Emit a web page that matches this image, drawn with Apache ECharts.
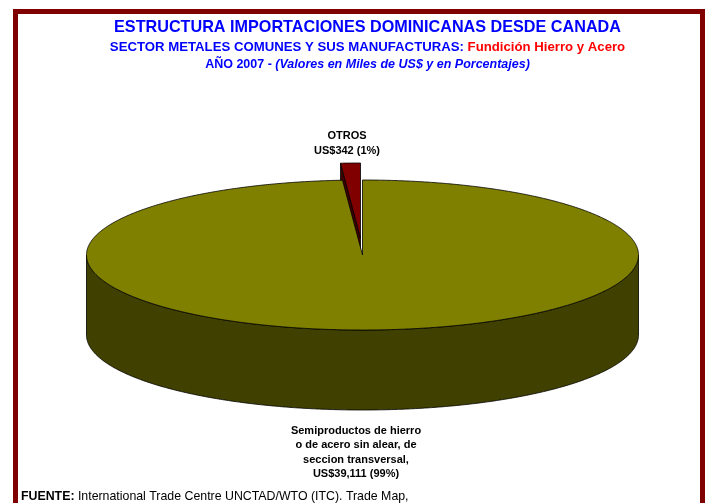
<!DOCTYPE html>
<html>
<head>
<meta charset="utf-8">
<style>html,body{margin:0;padding:0;background:#fff}#c{width:705px;height:503px}</style>
<script src="https://cdn.jsdelivr.net/npm/echarts@6/dist/echarts.min.js"></script>
</head>
<body>
<div id="c"></div>
<script>
const categories = ['OTROS', 'Semiproductos de hierro o de acero sin alear, de seccion transversal'];
const values = [342, 39111];
const titleLine1 = 'ESTRUCTURA IMPORTACIONES DOMINICANAS DESDE CANADA';
const titleLine2a = 'SECTOR METALES COMUNES Y SUS MANUFACTURAS: ';
const titleLine2b = 'Fundición Hierro y Acero';
const titleLine3a = 'AÑO 2007 - ';
const titleLine3b = '(Valores en Miles de US$ y en Porcentajes)';
const labelOtros = ['OTROS', 'US$342 (1%)'];
const labelSemi = ['Semiproductos de hierro', 'o de acero sin alear, de', 'seccion transversal,', 'US$39,111 (99%)'];
const sourceBold = 'FUENTE:';
const sourceText = ' International Trade Centre UNCTAD/WTO (ITC). Trade Map,';

const FONT = '"Liberation Sans", Arial, sans-serif';
const geo = { cx: 362.5, cy: 255, rx: 276, ry: 75, depth: 80, stretch: 1.33 };
const looks = [
  { top: '#800000', side: '#400000', dx: -2, dy: -17 },
  { top: '#808000', side: '#404000', dx: 0, dy: 0 }
];
const total = values.reduce((a, b) => a + b, 0);
const minorSweep = values[0] / total * 360 * geo.stretch;

function pt(deg, dx, dy, drop) {
  const t = deg * Math.PI / 180;
  return [geo.cx + dx + geo.rx * Math.sin(t), geo.cy + dy + drop - geo.ry * Math.cos(t)];
}
function arc(from, to, dx, dy, drop) {
  const n = Math.max(2, Math.ceil(Math.abs(to - from) * 2));
  const out = [];
  for (let i = 0; i <= n; i++) out.push(pt(from + (to - from) * i / n, dx, dy, drop));
  return out;
}
function renderItem(params, api) {
  const i = params.dataIndex;
  const look = looks[i];
  const sweep = i === 0 ? minorSweep : 360 - minorSweep;
  const start = i === 0 ? -minorSweep : 0;
  const end = start + sweep;
  const dx = look.dx, dy = look.dy;
  const apex = [geo.cx + dx, geo.cy + dy];
  const apexLow = [apex[0], apex[1] + geo.depth];
  const line = { stroke: '#000', lineWidth: 0.8 };
  const kids = [];
  if (i === 0) {
    const a = pt(start, dx, dy, 0);
    kids.push({ type: 'polygon', shape: { points: [a, apex, apexLow, [a[0], a[1] + geo.depth]] },
      style: Object.assign({ fill: look.side }, line) });
  } else {
    const wallTop = arc(90, 270, dx, dy, 0);
    const wallLow = arc(270, 90, dx, dy, geo.depth);
    kids.push({ type: 'polygon', shape: { points: wallTop.concat(wallLow) },
      style: Object.assign({ fill: look.side }, line) });
  }
  kids.push({ type: 'polygon', shape: { points: [apex].concat(arc(start, end, dx, dy, 0)) },
    style: Object.assign({ fill: look.top }, line) });
  return { type: 'group', children: kids };
}
function textEl(lines, x, firstY, step, size) {
  return lines.map((s, k) => ({
    type: 'text', x: x, y: firstY + k * step,
    style: { text: s, fill: '#000', font: 'bold ' + size + 'px ' + FONT, textAlign: 'center', textVerticalAlign: 'middle' }
  }));
}
const chart = echarts.init(document.getElementById('c'), null, { renderer: 'canvas' });
chart.setOption({
  backgroundColor: '#fff',
  animation: false,
  graphic: [
    { type: 'rect', z: 100, shape: { x: 15.5, y: 11.5, width: 687, height: 560 },
      style: { fill: 'transparent', stroke: '#800000', lineWidth: 5 } }
  ].concat(
    { type: 'text', x: 367.5, y: 28, style: { text: titleLine1, fill: '#0000ff', font: 'bold 16.2px ' + FONT, textAlign: 'center', textVerticalAlign: 'middle' } },
    {
      type: 'text', x: 367.5, y: 47.5,
      style: {
        text: '{a|' + titleLine2a + '}{b|' + titleLine2b + '}', textAlign: 'center', textVerticalAlign: 'middle',
        rich: {
          a: { fill: '#0000ff', font: 'bold 13.2px ' + FONT },
          b: { fill: '#ff0000', font: 'bold 13.2px ' + FONT }
        }
      }
    },
    {
      type: 'text', x: 367.5, y: 64.5,
      style: {
        text: '{a|' + titleLine3a + '}{b|' + titleLine3b + '}', textAlign: 'center', textVerticalAlign: 'middle',
        rich: {
          a: { fill: '#0000ff', font: 'bold 12.5px ' + FONT },
          b: { fill: '#0000ff', font: 'italic bold 12.5px ' + FONT }
        }
      }
    },
    textEl(labelOtros, 347, 136, 14.5, 11),
    textEl(labelSemi, 356, 431, 14.4, 11),
    {
      type: 'text', x: 21, y: 497,
      style: {
        text: '{a|' + sourceBold + '}{b|' + sourceText + '}', textAlign: 'left', textVerticalAlign: 'middle',
        rich: {
          a: { fill: '#000', font: 'bold 12.35px ' + FONT },
          b: { fill: '#000', font: '12.35px ' + FONT }
        }
      }
    }
  ),
  series: [{
    type: 'custom',
    coordinateSystem: 'none',
    renderItem: renderItem,
    encode: { value: 1 },
    data: categories.map((c, i) => ({ name: c, value: [i, values[i]] }))
  }]
});
</script>
</body>
</html>
